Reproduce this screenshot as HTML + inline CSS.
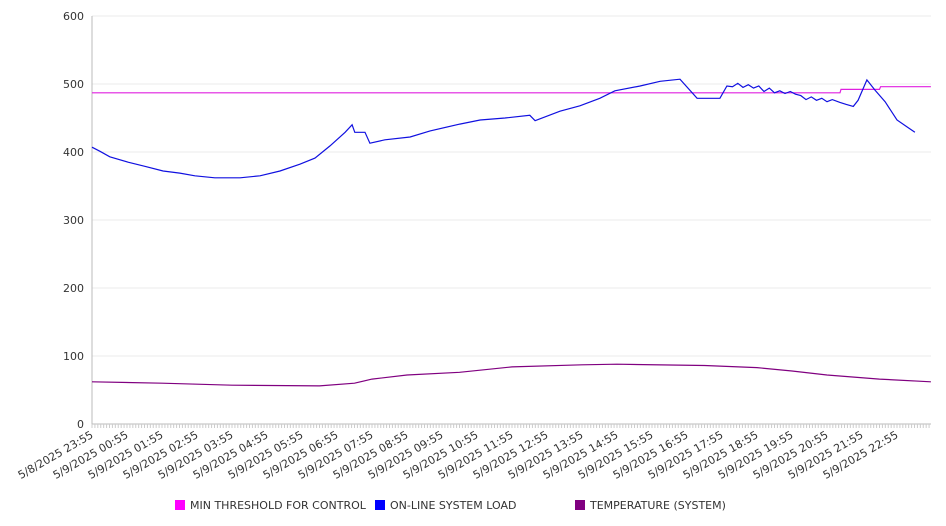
<!DOCTYPE html>
<html><head><meta charset="utf-8"><style>
body{margin:0;background:#fff;}
svg{display:block;font-family:"DejaVu Sans","Liberation Sans",sans-serif;}
</style></head><body>
<svg id="chart" width="946" height="526" xmlns="http://www.w3.org/2000/svg"></svg>
<script>
const xLabels=["5/8/2025 23:55","5/9/2025 00:55","5/9/2025 01:55","5/9/2025 02:55","5/9/2025 03:55","5/9/2025 04:55","5/9/2025 05:55","5/9/2025 06:55","5/9/2025 07:55","5/9/2025 08:55","5/9/2025 09:55","5/9/2025 10:55","5/9/2025 11:55","5/9/2025 12:55","5/9/2025 13:55","5/9/2025 14:55","5/9/2025 15:55","5/9/2025 16:55","5/9/2025 17:55","5/9/2025 18:55","5/9/2025 19:55","5/9/2025 20:55","5/9/2025 21:55","5/9/2025 22:55"];
const yTicks=[0,100,200,300,400,500,600];
const loadHours=[0,0.23,0.51,1.03,1.51,2.03,2.51,2.94,3.51,4.23,4.8,5.37,5.94,6.37,6.8,7.23,7.43,7.51,7.8,7.94,8.37,9.09,9.66,10.51,11.09,11.8,12.51,12.66,13.37,13.94,14.51,14.94,15.66,16.23,16.8,17.29,17.94,18.14,18.3,18.45,18.6,18.75,18.9,19.05,19.2,19.35,19.5,19.65,19.8,19.95,20.1,20.25,20.4,20.55,20.7,20.85,21.0,21.15,21.37,21.55,21.75,21.89,22.14,22.37,22.66,23.0,23.51,23.97];
const loadVals=[407,401,393,385,379,372,369,365,362,362,365,372,382,391,409,429,440,429,429,413,418,422,431,441,447,450,454,446,460,468,479,490,497,504,507,479,479,497,496,501,495,499,494,497,489,494,487,490,486,489,485,483,477,481,476,479,474,477,473,470,467,476,506,491,474,447,429];
const threshHours=[0,21.37,21.4,22.5,22.53,23.97];
const threshVals=[487,487,492,492,496,496];
const tempHours=[0,2,4,6.5,7.5,8,9,10.5,12,14,15,17.5,19,20,21,22.5,23.97];
const tempVals=[62,60,57,56,60,66,72,76,84,87,88,86,83,78,72,66,62];
const NS="http://www.w3.org/2000/svg";
const svg=document.getElementById('chart');
const X0=92,X1=931,Y0=424,Y1=16,HW=35;
const xs=h=>X0+h*HW, ys=v=>Y0-(v/600)*(Y0-Y1);
function mk(t,a,p){const e=document.createElementNS(NS,t);for(const k in a)e.setAttribute(k,a[k]);(p||svg).appendChild(e);return e;}
yTicks.forEach(v=>{
  const g=mk('line',{x1:X0,x2:X1,y1:ys(v),y2:ys(v),stroke:v===0?'#bbb':'#ebebeb'});
  
  
  const t=mk('text',{x:84,y:ys(v)+4,'text-anchor':'end','font-size':11,fill:'#333'});t.textContent=v;
  
  
});
const ax=mk('line',{x1:X0,x2:X0,y1:Y1,y2:Y0,stroke:'#bbb'});


for(let i=0;i<=24*12;i++){const x=X0+i*HW/12;if(x>X1)break;const tk=mk('line',{x1:x,x2:x,y1:Y0,y2:Y0+4,stroke:'#ccc'});

}
xLabels.forEach((l,i)=>{const x=xs(i)+2;const t=mk('text',{x:x,y:Y0+13,'text-anchor':'end','font-size':11,fill:'#333',transform:`rotate(-30 ${x} ${Y0+13})`});t.textContent=l;

});
function series(hs,vs,c,name){const d=hs.map((h,i)=>(i?'L':'M')+xs(h).toFixed(1)+' '+ys(vs[i]).toFixed(1)).join(' ');const p=mk('path',{d:d,fill:'none',stroke:c,'stroke-width':1.2});

}
series(threshHours,threshVals,'#e020e0','min-threshold-line');
series(loadHours,loadVals,'#1010e0','online-system-load-line');
series(tempHours,tempVals,'#800080','temperature-line');
const leg=[['MIN THRESHOLD FOR CONTROL','#ff00ff',175],['ON-LINE SYSTEM LOAD','#0000ff',375],['TEMPERATURE (SYSTEM)','#800080',575]];
leg.forEach(([n,c,x])=>{const g=mk('g',{});


mk('rect',{x:x,y:500,width:10,height:10,fill:c},g);const t=mk('text',{x:x+15,y:509,'font-size':11,fill:'#333'},g);t.textContent=n;});
</script>
</body></html>
